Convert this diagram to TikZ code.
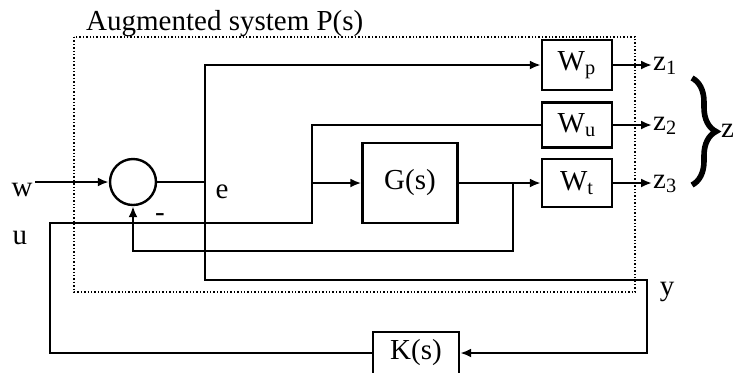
\documentclass[tikz,border=0pt]{standalone}
\usepackage{fontspec}
\setmainfont{Liberation Serif}
\usetikzlibrary{arrows.meta, positioning, decorations.pathreplacing}

\begin{document}
\begin{tikzpicture}[x=0.5pt, y=-0.5pt, line width=1.2pt,
  font=\fontsize{14.5}{17}\selectfont,
  >={Latex[length=5.5pt,width=4.5pt]},
  block/.style={draw, minimum width=35pt, minimum height=24pt, inner sep=0pt},
  sumnode/.style={draw, circle, minimum size=23pt, inner sep=0pt},
  lbl/.style={inner sep=0pt}]
  \useasboundingbox (0,0) rectangle (733,372);

  % augmented system frame
  \coordinate (ptl) at (74,37);
  \coordinate (pbr) at (635,292);
  \draw[densely dotted, line width=0.7pt] (ptl) rectangle (pbr);
  \node[lbl, anchor=base west] (ptitle) at (85,30) {Augmented system P(s)};

  % blocks
  \node[sumnode] (sum) at (133,182) {};
  \node[block, minimum width=47.5pt, minimum height=40pt] (G) at (410,183) {G(s)};
  \node[block, minimum height=25pt] (Wp) at (577,65) {W\textsubscript{p}};
  \node[block, minimum height=22.5pt] (Wu) at (577,125) {W\textsubscript{u}};
  \node[block] (Wt) at (577,183) {W\textsubscript{t}};
  \node[block, minimum width=43pt, minimum height=21pt] (K) at (416,353) {K(s)};

  % labels
  \node[lbl] (w) at (22,190) {w};
  \node[lbl] (u) at (20,238) {u};
  \node[lbl] (e) at (222,192) {e};
  \node[lbl] (y) at (667,292) {y};
  \node[lbl] (minus) at (160,218) {-};
  \node[lbl, anchor=west] (z1) at (652,66) {z\textsubscript{1}};
  \node[lbl, anchor=west] (z2) at (652,126) {z\textsubscript{2}};
  \node[lbl, anchor=west] (z3) at (652,184) {z\textsubscript{3}};
  \node[lbl, anchor=west] (z) at (720,131) {z};

  % branch points
  \coordinate (win) at (35,182);
  \coordinate (eb) at (205,182);
  \coordinate (ebot) at (205,280);
  \coordinate (ycor) at (647,353);
  \coordinate (ul) at (50,223);
  \coordinate (ub) at (312,223);
  \coordinate (ug) at (312,183);
  \coordinate (gt) at (513,183);
  \coordinate (fb) at (513,251);
  \coordinate (btop) at (692,78);
  \coordinate (bbot) at (692,185);

  % signals
  \draw[->] (win) -- (sum);
  \draw (sum) -- (eb);
  \draw[->] (eb) |- (Wp);
  \draw[->] (eb) -- (ebot) -| (ycor) -- (K);
  \draw (K) -| (ul) -- (ub) |- (Wu);
  \draw[->] (ug) -- (G);
  \draw[->] (G) -- (Wt);
  \draw[->] (gt) -- (fb) -| (sum);

  % outputs
  \draw[->] (Wp) -- (Wp.east -| z1.west);
  \draw[->] (Wu) -- (Wu.east -| z2.west);
  \draw[->] (Wt) -- (Wt.east -| z3.west);
  \draw[line width=2.8pt, decorate, decoration={brace, amplitude=12pt}] (btop) -- (bbot);
\end{tikzpicture}
\end{document}
